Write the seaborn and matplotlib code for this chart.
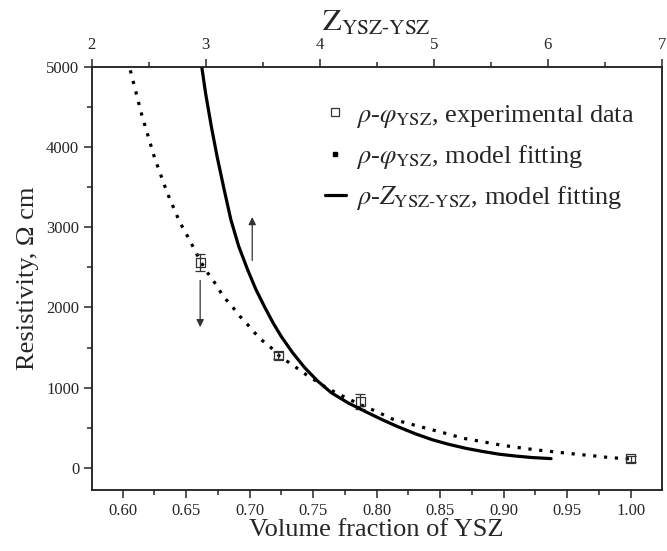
import numpy as np
import pandas as pd
import matplotlib
matplotlib.use("Agg")
from matplotlib import pyplot as plt
from matplotlib.ticker import MultipleLocator
from matplotlib.lines import Line2D
import seaborn as sns

# experimental points (bottom axis: volume fraction of YSZ)
exp_phi = [0.661, 0.7225, 0.787, 1.000]
exp_rho = [2560, 1405, 830, 115]
exp_err = [105, 45, 90, 35]

# model fitting vs volume fraction (dotted)
fit_phi = [0.606, 0.615, 0.625, 0.635, 0.645, 0.650, 0.656, 0.661, 0.667, 0.674,
           0.679, 0.686, 0.692, 0.698, 0.704, 0.710, 0.717, 0.723, 0.729, 0.736,
           0.742, 0.761, 0.774, 0.787, 0.800, 0.813, 0.826, 0.841, 0.854, 0.868,
           0.883, 0.897, 0.912, 0.926, 0.940, 0.955, 0.971, 0.984, 1.000]
fit_rho = [4954, 4400, 3870, 3430, 3060, 2918, 2739, 2580, 2428, 2273,
           2141, 2016, 1895, 1792, 1683, 1587, 1496, 1400, 1334, 1259,
           1188, 994, 889, 790, 702, 605, 549, 486, 432, 370,
           328, 287, 253, 224, 200, 175, 150, 128, 112]

# model fitting vs coordination number (solid, top axis)
z_val = [2.965, 3.00, 3.05, 3.10, 3.16, 3.221, 3.29, 3.368, 3.44, 3.515,
         3.59, 3.662, 3.76, 3.868, 3.98, 4.104, 4.25, 4.397, 4.55, 4.692,
         4.84, 4.986, 5.13, 5.280, 5.43, 5.575, 5.72, 5.868, 6.03]
z_rho = [5000, 4660, 4250, 3880, 3480, 3092, 2760, 2469, 2225, 2011,
         1810, 1640, 1440, 1250, 1085, 935, 810, 705, 600, 510,
         425, 352, 295, 245, 205, 171, 148, 129, 116]

sns.set_theme(style="ticks")
plt.rcParams['font.family'] = ['Liberation Serif', 'DejaVu Serif']
plt.rcParams['mathtext.fontset'] = 'stix'
plt.rcParams['axes.linewidth'] = 1.1

fig = plt.figure(figsize=(6.67, 5.51), dpi=100)
ax = fig.add_axes([0.1375, 0.1107, 0.8545, 0.7683])

fit_df = pd.DataFrame({"phi": fit_phi, "rho": fit_rho})
sns.lineplot(data=fit_df, x="phi", y="rho", ax=ax, sort=False, estimator=None,
             color="black", linewidth=2.3, zorder=2)
dot_line = ax.lines[-1]
dot_line.set_linestyle((0, (1, 2.4)))
dot_line.set_dash_capstyle("butt")

ax.errorbar(exp_phi, exp_rho, yerr=exp_err, fmt="none", ecolor="#333333",
            elinewidth=0.9, capsize=3.8, capthick=0.9, zorder=3)
exp_df = pd.DataFrame({"phi": exp_phi, "rho": exp_rho})
sns.scatterplot(data=exp_df, x="phi", y="rho", ax=ax, marker="s", s=42,
                facecolor="none", edgecolor="#333333", linewidth=0.9, zorder=4)

ax.set_xlim(0.5756, 1.0244)
ax.set_ylim(-275, 5000)
ax.xaxis.set_major_locator(MultipleLocator(0.05))
ax.xaxis.set_minor_locator(MultipleLocator(0.025))
ax.yaxis.set_major_locator(MultipleLocator(1000))
ax.yaxis.set_minor_locator(MultipleLocator(500))
ax.xaxis.set_major_formatter(matplotlib.ticker.FormatStrFormatter("%.2f"))
ax.tick_params(which="major", direction="out", length=6, width=1.1, labelsize=12)
ax.tick_params(which="minor", direction="out", length=3.5, width=1.1)
ax.tick_params(axis="x", pad=3)
ax.tick_params(axis="y", pad=3)
ax.set_xlabel("Volume fraction of YSZ", fontsize=19, labelpad=0)
ax.set_ylabel("Resistivity, \u03a9 cm", fontsize=19, labelpad=5)

# arrows
ax.annotate("", xy=(0.661, 1720), xytext=(0.661, 2370),
            arrowprops=dict(arrowstyle="-|>", color="#333333", lw=0.9,
                            mutation_scale=11))
ax.annotate("", xy=(0.702, 3160), xytext=(0.702, 2550),
            arrowprops=dict(arrowstyle="-|>", color="#333333", lw=0.9,
                            mutation_scale=11))

ax2 = ax.twiny()
z_df = pd.DataFrame({"z": z_val, "rho": z_rho})
sns.lineplot(data=z_df, x="z", y="rho", ax=ax2, sort=False, estimator=None,
             color="black", linewidth=2.3, zorder=2)
ax2.set_xlim(2, 7)
ax2.set_ylim(-275, 5000)
ax2.xaxis.set_major_locator(MultipleLocator(1))
ax2.xaxis.set_minor_locator(MultipleLocator(0.5))
ax2.tick_params(which="major", direction="out", length=6, width=1.1, labelsize=12)
ax2.tick_params(which="minor", direction="out", length=3.5, width=1.1)
ax2.tick_params(axis="x", pad=4)
ax2.set_xlabel(r"$\mathrm{Z}_{\mathrm{YSZ}\text{-}\mathrm{YSZ}}$", fontsize=22, labelpad=4)
ax2.set_ylabel("")
for a in (ax, ax2):
    for s in a.spines.values():
        s.set_visible(True)
        s.set_linewidth(1.1)
ax2.tick_params(axis="y", right=False, labelright=False)

h1 = Line2D([], [], marker="s", linestyle="none", markerfacecolor="none",
            markeredgecolor="#333333", markersize=5.5, markeredgewidth=0.9)
h2 = Line2D([], [], marker="s", linestyle="none", color="black", markersize=2.2)
h3 = Line2D([], [], color="black", linewidth=2.3)
ax2.legend([h1, h2, h3],
           [r"$\rho$-$\varphi_{\mathrm{YSZ}}$, experimental data",
            r"$\rho$-$\varphi_{\mathrm{YSZ}}$, model fitting",
            r"$\rho$-$Z_{\mathrm{YSZ}\text{-}\mathrm{YSZ}}$, model fitting"],
           loc="upper left", bbox_to_anchor=(0.39, 0.94), frameon=False,
           fontsize=19, handlelength=0.8, handletextpad=0.4, labelspacing=0.5,
           borderaxespad=0)

fig.savefig("out.png", dpi=100)
